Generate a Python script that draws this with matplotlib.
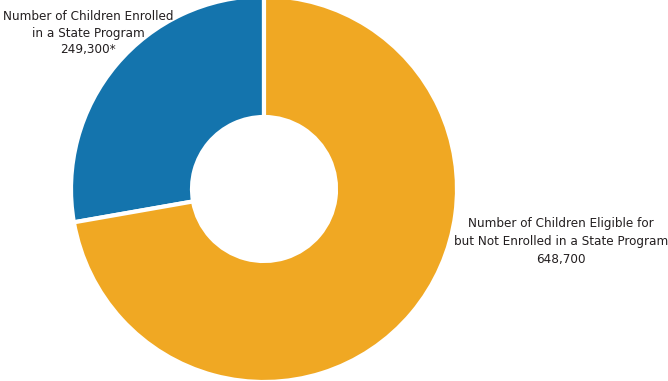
import matplotlib.pyplot as plt

labels = ['Number of Children Enrolled\nin a State Program\n249,300*',
          'Number of Children Eligible for\nbut Not Enrolled in a State Program\n648,700']
values = [249300, 648700]
colors = ['#1474ad', '#f0a823']

fig = plt.figure(figsize=(6.68, 3.81), dpi=100)
ax = fig.add_axes([0, 0, 1, 1])

# donut drawn in pixel-like data units
ax.pie(values, colors=colors, startangle=90, counterclock=True,
       center=(264, 192), radius=193, frame=True,
       wedgeprops=dict(width=121, edgecolor='white', linewidth=3))
ax.set_xlim(0, 668)
ax.set_ylim(0, 381)
ax.set_aspect('equal')
ax.axis('off')

font = dict(family='DejaVu Sans', stretch='condensed', fontsize=9.6, color='#231f20')
ax.text(88, 381 - 33, labels[0], ha='center', va='center', linespacing=1.4, **font)
ax.text(561, 381 - 241, labels[1], ha='center', va='center', linespacing=1.5, **font)

fig.savefig('out.png', dpi=100)
